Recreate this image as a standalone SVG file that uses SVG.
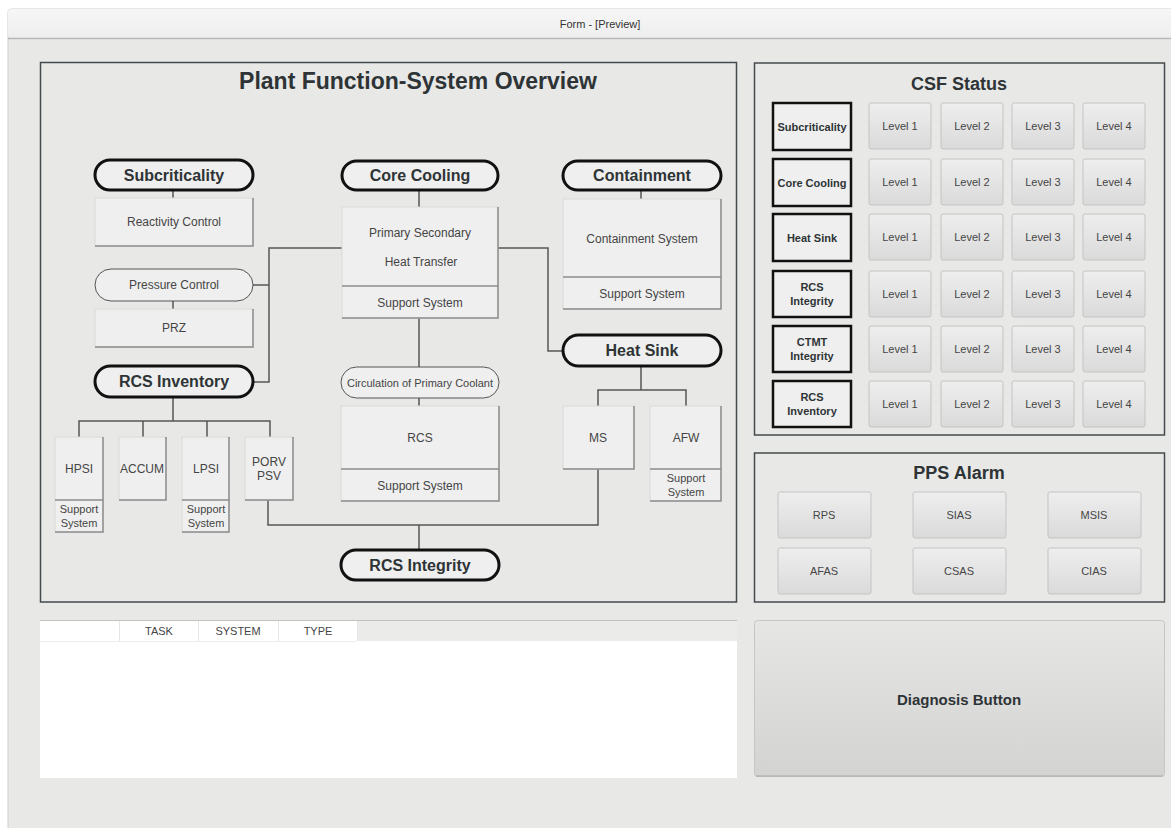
<svg xmlns="http://www.w3.org/2000/svg" width="1171" height="828" viewBox="0 0 1171 828">
<defs>
<linearGradient id="btn" x1="0" y1="0" x2="0" y2="1"><stop offset="0" stop-color="#eeeeee"/><stop offset="1" stop-color="#dadada"/></linearGradient>
<linearGradient id="big" x1="0" y1="0" x2="0" y2="1"><stop offset="0" stop-color="#e6e6e5"/><stop offset="1" stop-color="#d3d3d2"/></linearGradient>
<linearGradient id="bar" x1="0" y1="0" x2="0" y2="1"><stop offset="0" stop-color="#f6f6f6"/><stop offset="1" stop-color="#eeeeee"/></linearGradient>
<style>
text{font-family:"Liberation Sans",Arial,sans-serif;fill:#3a3a3a;text-anchor:middle}
.h1{font-size:23px;font-weight:bold;fill:#2e3436}
.h2{font-size:18px;font-weight:bold;fill:#2e3436}
.pb{font-size:16px;font-weight:bold;fill:#2e3436}
.sm{font-size:12px;fill:#454545}
.xs{font-size:11px;fill:#454545}
.lb{font-size:11px;font-weight:bold;fill:#2e3436}
.panel{fill:none;stroke:#454a4c;stroke-width:1.5}
.pill{fill:#efefef;stroke:#111;stroke-width:3}
.pthin{fill:#efefef;stroke:#555;stroke-width:1}
.box{fill:#efefef;stroke:#dadada;stroke-width:1}
.edge{fill:none;stroke:#8c8c8c;stroke-width:1.5}
.sep{stroke:#8c8c8c;stroke-width:1.5}
.conn{fill:none;stroke:#555;stroke-width:1.5}
.lab{fill:#efefef;stroke:#111;stroke-width:2.5}
.lvl{fill:url(#btn);stroke:#c4c4c4;stroke-width:1}
</style>
</defs>
<rect x="0" y="0" width="1171" height="828" fill="#ffffff"/>
<rect x="8" y="9" width="1170" height="830" rx="3" fill="#e8e8e7" stroke="#cfcfcf" stroke-width="1"/>
<rect x="8" y="9" width="1170" height="29" rx="3" fill="url(#bar)"/>
<line x1="8" y1="38.5" x2="1171" y2="38.5" stroke="#b8b8b8" stroke-width="1.5"/>
<text x="600" y="28" style="font-size:11px;fill:#333">Form - [Preview]</text>

<g id="main-panel">
<rect class="panel" x="40.5" y="62.5" width="696" height="539.5"/>
<text class="h1" x="418" y="89">Plant Function-System Overview</text>
</g>

<g id="connectors">
<path class="conn" d="M173,190V198M173,301V309M253,285H269M342,248H269V382H253"/>
<path class="conn" d="M419,190V207M498,248H548V351H563M641,190V199"/>
<path class="conn" d="M419,318V367M419,398V406M641,366V390M598,406V390H686V406"/>
<path class="conn" d="M173,397V421M79,437V421H270V437M143,421V437M207,421V437"/>
<path class="conn" d="M268,500V525H598V469M419,525V550"/>
</g>

<g id="subcriticality"><rect class="pill" x="95" y="160" width="158" height="30" rx="15"/><text class="pb" x="174" y="181">Subcriticality</text></g>
<g id="reactivity-control"><rect class="box" x="95" y="198" width="158" height="48"/><path class="edge" d="M95,246H253V198"/><text class="sm" x="174" y="226">Reactivity Control</text></g>
<g id="pressure-control"><rect class="pthin" x="95" y="269" width="158" height="32" rx="16"/><text class="sm" x="174" y="289">Pressure Control</text></g>
<g id="prz"><rect class="box" x="95" y="309" width="158" height="38"/><path class="edge" d="M95,347H253V309"/><text class="sm" x="174" y="332">PRZ</text></g>
<g id="rcs-inventory"><rect class="pill" x="95" y="366" width="158" height="31" rx="15.5"/><text class="pb" x="174" y="387">RCS Inventory</text></g>

<g id="core-cooling"><rect class="pill" x="342" y="161" width="156" height="29" rx="14.5"/><text class="pb" x="420" y="181">Core Cooling</text></g>
<g id="primary-secondary"><rect class="box" x="342" y="207" width="156" height="111"/><line class="sep" x1="342" y1="286" x2="498" y2="286"/><path class="edge" d="M342,318H498V207"/><text class="sm" x="420" y="237">Primary Secondary</text><text class="sm" x="421" y="266">Heat Transfer</text><text class="sm" x="420" y="307">Support System</text></g>
<g id="circulation"><rect class="pthin" x="341" y="367" width="158" height="31" rx="15.5"/><text class="xs" x="420" y="386.5">Circulation of Primary Coolant</text></g>
<g id="rcs"><rect class="box" x="341" y="406" width="158" height="95"/><line class="sep" x1="341" y1="469" x2="499" y2="469"/><path class="edge" d="M341,501H499V406"/><text class="sm" x="420" y="442">RCS</text><text class="sm" x="420" y="490">Support System</text></g>
<g id="rcs-integrity"><rect class="pill" x="341" y="550" width="158" height="30" rx="15"/><text class="pb" x="420" y="571">RCS Integrity</text></g>

<g id="containment"><rect class="pill" x="563" y="161" width="158" height="29" rx="14.5"/><text class="pb" x="642" y="181">Containment</text></g>
<g id="containment-system"><rect class="box" x="563" y="199" width="158" height="110"/><line class="sep" x1="563" y1="277" x2="721" y2="277"/><path class="edge" d="M563,309H721V199"/><text class="sm" x="642" y="243">Containment System</text><text class="sm" x="642" y="298">Support System</text></g>
<g id="heat-sink"><rect class="pill" x="563" y="335" width="158" height="31" rx="15.5"/><text class="pb" x="642" y="356">Heat Sink</text></g>
<g id="ms"><rect class="box" x="563" y="406" width="71" height="63"/><path class="edge" d="M563,469H634V406"/><text class="sm" x="598" y="442">MS</text></g>
<g id="afw"><rect class="box" x="650" y="406" width="71" height="95"/><line class="sep" x1="650" y1="469" x2="721" y2="469"/><path class="edge" d="M650,501H721V406"/><text class="sm" x="686" y="442">AFW</text><text class="xs" x="686" y="482">Support</text><text class="xs" x="686" y="496">System</text></g>

<g id="hpsi"><rect class="box" x="55" y="437" width="48" height="95"/><line class="sep" x1="55" y1="500" x2="103" y2="500"/><path class="edge" d="M55,532H103V437"/><text class="sm" x="79" y="473">HPSI</text><text class="xs" x="79" y="513">Support</text><text class="xs" x="79" y="527">System</text></g>
<g id="accum"><rect class="box" x="119" y="437" width="47" height="63"/><path class="edge" d="M119,500H166V437"/><text class="sm" x="142" y="473">ACCUM</text></g>
<g id="lpsi"><rect class="box" x="182" y="437" width="47" height="95"/><line class="sep" x1="182" y1="500" x2="229" y2="500"/><path class="edge" d="M182,532H229V437"/><text class="sm" x="206" y="473">LPSI</text><text class="xs" x="206" y="513">Support</text><text class="xs" x="206" y="527">System</text></g>
<g id="porv-psv"><rect class="box" x="245" y="437" width="48" height="63"/><path class="edge" d="M245,500H293V437"/><text class="sm" x="269" y="466">PORV</text><text class="sm" x="269" y="480">PSV</text></g>

<g id="csf-status">
<rect class="panel" x="754.5" y="63" width="410" height="372"/>
<text class="h2" x="959" y="90">CSF Status</text>
<g id="csf-labels">
<rect class="lab" x="773" y="103" width="78" height="47"/><text class="lb" x="812" y="130.5">Subcriticality</text>
<rect class="lab" x="773" y="159" width="78" height="47"/><text class="lb" x="812" y="186.5">Core Cooling</text>
<rect class="lab" x="773" y="214" width="78" height="47"/><text class="lb" x="812" y="241.5">Heat Sink</text>
<rect class="lab" x="773" y="271" width="78" height="46"/><text class="lb" x="812" y="291">RCS</text><text class="lb" x="812" y="305">Integrity</text>
<rect class="lab" x="773" y="326" width="78" height="46"/><text class="lb" x="812" y="346">CTMT</text><text class="lb" x="812" y="360">Integrity</text>
<rect class="lab" x="773" y="381" width="78" height="46"/><text class="lb" x="812" y="401">RCS</text><text class="lb" x="812" y="415">Inventory</text>
</g>
<g id="csf-levels">
<rect class="lvl" x="869" y="103" width="62" height="46" rx="2"/><text class="xs" x="900" y="130">Level 1</text>
<rect class="lvl" x="941" y="103" width="62" height="46" rx="2"/><text class="xs" x="972" y="130">Level 2</text>
<rect class="lvl" x="1012" y="103" width="62" height="46" rx="2"/><text class="xs" x="1043" y="130">Level 3</text>
<rect class="lvl" x="1083" y="103" width="62" height="46" rx="2"/><text class="xs" x="1114" y="130">Level 4</text>
<rect class="lvl" x="869" y="159" width="62" height="46" rx="2"/><text class="xs" x="900" y="186">Level 1</text>
<rect class="lvl" x="941" y="159" width="62" height="46" rx="2"/><text class="xs" x="972" y="186">Level 2</text>
<rect class="lvl" x="1012" y="159" width="62" height="46" rx="2"/><text class="xs" x="1043" y="186">Level 3</text>
<rect class="lvl" x="1083" y="159" width="62" height="46" rx="2"/><text class="xs" x="1114" y="186">Level 4</text>
<rect class="lvl" x="869" y="214" width="62" height="46" rx="2"/><text class="xs" x="900" y="241">Level 1</text>
<rect class="lvl" x="941" y="214" width="62" height="46" rx="2"/><text class="xs" x="972" y="241">Level 2</text>
<rect class="lvl" x="1012" y="214" width="62" height="46" rx="2"/><text class="xs" x="1043" y="241">Level 3</text>
<rect class="lvl" x="1083" y="214" width="62" height="46" rx="2"/><text class="xs" x="1114" y="241">Level 4</text>
<rect class="lvl" x="869" y="271" width="62" height="46" rx="2"/><text class="xs" x="900" y="298">Level 1</text>
<rect class="lvl" x="941" y="271" width="62" height="46" rx="2"/><text class="xs" x="972" y="298">Level 2</text>
<rect class="lvl" x="1012" y="271" width="62" height="46" rx="2"/><text class="xs" x="1043" y="298">Level 3</text>
<rect class="lvl" x="1083" y="271" width="62" height="46" rx="2"/><text class="xs" x="1114" y="298">Level 4</text>
<rect class="lvl" x="869" y="326" width="62" height="46" rx="2"/><text class="xs" x="900" y="353">Level 1</text>
<rect class="lvl" x="941" y="326" width="62" height="46" rx="2"/><text class="xs" x="972" y="353">Level 2</text>
<rect class="lvl" x="1012" y="326" width="62" height="46" rx="2"/><text class="xs" x="1043" y="353">Level 3</text>
<rect class="lvl" x="1083" y="326" width="62" height="46" rx="2"/><text class="xs" x="1114" y="353">Level 4</text>
<rect class="lvl" x="869" y="381" width="62" height="46" rx="2"/><text class="xs" x="900" y="408">Level 1</text>
<rect class="lvl" x="941" y="381" width="62" height="46" rx="2"/><text class="xs" x="972" y="408">Level 2</text>
<rect class="lvl" x="1012" y="381" width="62" height="46" rx="2"/><text class="xs" x="1043" y="408">Level 3</text>
<rect class="lvl" x="1083" y="381" width="62" height="46" rx="2"/><text class="xs" x="1114" y="408">Level 4</text>
</g>
</g>

<g id="pps-alarm">
<rect class="panel" x="754.5" y="453" width="410" height="149"/>
<text class="h2" x="959" y="479">PPS Alarm</text>
<rect class="lvl" x="778" y="492" width="93" height="46" rx="2"/><text class="xs" x="824" y="519">RPS</text>
<rect class="lvl" x="913" y="492" width="93" height="46" rx="2"/><text class="xs" x="959" y="519">SIAS</text>
<rect class="lvl" x="1048" y="492" width="93" height="46" rx="2"/><text class="xs" x="1094" y="519">MSIS</text>
<rect class="lvl" x="778" y="548" width="93" height="46" rx="2"/><text class="xs" x="824" y="575">AFAS</text>
<rect class="lvl" x="913" y="548" width="93" height="46" rx="2"/><text class="xs" x="959" y="575">CSAS</text>
<rect class="lvl" x="1048" y="548" width="93" height="46" rx="2"/><text class="xs" x="1094" y="575">CIAS</text>
</g>

<g id="task-table">
<rect x="40" y="620" width="697" height="158" fill="#ffffff"/>
<rect x="357" y="620" width="380" height="21" fill="#ebebea"/>
<line x1="40" y1="620.5" x2="737" y2="620.5" stroke="#c2c2c2" stroke-width="1"/>
<line x1="40" y1="641.5" x2="357" y2="641.5" stroke="#ececec" stroke-width="1"/>
<path d="M119.5,621V641M198.5,621V641M278.5,621V641M357.5,621V641" stroke="#e6e6e6" stroke-width="1"/>
<text class="xs" x="159" y="635">TASK</text>
<text class="xs" x="238" y="635">SYSTEM</text>
<text class="xs" x="318" y="635">TYPE</text>
</g>

<g id="diagnosis-button">
<rect x="754.5" y="620.5" width="410" height="156" rx="3" fill="url(#big)" stroke="#c6c6c6" stroke-width="1"/>
<line x1="756" y1="776" x2="1163" y2="776" stroke="#a8a8a8" stroke-width="1"/>
<text x="959" y="705" style="font-size:15px;font-weight:bold;fill:#2e3436">Diagnosis Button</text>
</g>
</svg>
